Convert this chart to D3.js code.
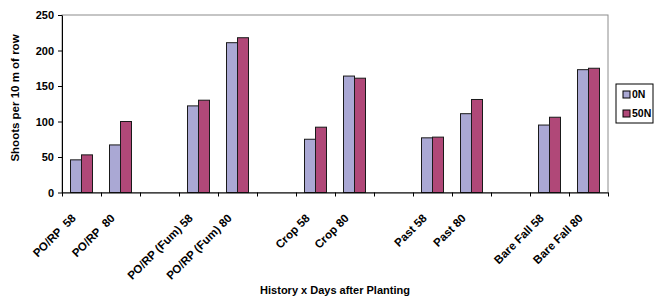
<!DOCTYPE html>
<html>
<head>
<meta charset="utf-8">
<script src="https://cdn.jsdelivr.net/npm/d3@7"></script>
<style>
  body { margin: 0; background: #fff; }
  text { font-family: "Liberation Sans", Arial, sans-serif; font-weight: bold; }
</style>
</head>
<body>
<svg id="chart" width="655" height="298"></svg>
<script>
// categories (blank slots are the gaps between history groups)
const categories = ["PO/RP\u00a0 58", "PO/RP\u00a0 80", "", "PO/RP (Fum) 58", "PO/RP (Fum) 80", "",
  "Crop 58", "Crop 80", "", "Past 58", "Past 80", "", "Bare Fall 58", "Bare Fall 80"];
const seriesNames = ["0N", "50N"];
const values0N  = [46, 67, null, 122, 211, null, 75, 164, null, 77, 111, null, 95, 173];
const values50N = [53, 100, null, 130, 218, null, 92, 161, null, 78, 131, null, 106, 175];
const yTicks = [0, 50, 100, 150, 200, 250];
const colors = ["#aaa8d4", "#b04878"];

const svg = d3.select("#chart");
const plotL = 62, plotR = 608, plotT = 15, plotB = 192.5;

const x = d3.scaleBand().domain(d3.range(categories.length)).range([plotL, plotR]);
const xi = d3.scaleLinear().domain([0, categories.length]).range([plotL, plotR]);
const bw = x.bandwidth();
const x1 = d3.scaleBand().domain(seriesNames).range([(bw - 22) / 2, (bw + 22) / 2]);
const y = d3.scaleLinear().domain([0, 250]).range([plotB, plotT]);

//Plot area border (gray top and right)
svg.append("rect")
  .attr("x", plotL).attr("y", plotT)
  .attr("width", plotR - plotL).attr("height", plotB - plotT)
  .attr("fill", "none").attr("stroke", "#8c8c8c").attr("stroke-width", 1);

//Bars
const rows = categories.map((c, i) => ({ i, vals: [values0N[i], values50N[i]] }));
const groups = svg.append("g").selectAll("g")
  .data(rows.filter(r => r.vals[0] != null))
  .enter().append("g")
  .attr("transform", d => `translate(${x(d.i)},0)`);

groups.selectAll("rect")
  .data(d => d.vals.map((v, k) => ({ k, v })))
  .enter().append("rect")
  .attr("x", d => x1(seriesNames[d.k]))
  .attr("y", d => y(d.v))
  .attr("width", x1.bandwidth())
  .attr("height", d => y(0) - y(d.v))
  .attr("fill", d => colors[d.k])
  .attr("stroke", "#1a1a1a")
  .attr("stroke-width", 1);

//Y axis
const yAxis = svg.append("g")
  .attr("transform", `translate(${plotL},0)`)
  .call(d3.axisLeft(y).tickValues(yTicks).tickSize(4).tickSizeOuter(0));
yAxis.select(".domain").attr("stroke", "#000");
yAxis.selectAll("text").attr("font-size", 11).attr("fill", "#000").attr("x", -8);

//X axis, ticks between categories
const xAxis = svg.append("g")
  .attr("transform", `translate(0,${plotB})`)
  .call(d3.axisBottom(xi).tickValues(d3.range(categories.length + 1)).tickFormat("").tickSize(4).tickSizeOuter(0));
xAxis.select(".domain").attr("stroke", "#000");

svg.append("g").selectAll("text")
  .data(categories.map((c, i) => ({ c, i })).filter(d => d.c !== ""))
  .enter().append("text")
  .attr("transform", d => `translate(${x(d.i) + bw / 2 - 5},219) rotate(-45)`)
  .attr("text-anchor", "end")
  .attr("font-size", 11.5)
  .text(d => d.c);

//Axis titles
svg.append("text")
  .attr("x", 335).attr("y", 294)
  .attr("text-anchor", "middle").attr("font-size", 11)
  .text("History x Days after Planting");

svg.append("text")
  .attr("transform", "translate(19,98) rotate(-90)")
  .attr("text-anchor", "middle").attr("font-size", 11.5)
  .text("Shoots per 10 m of row");

//Legend
const legend = svg.append("g").attr("transform", "translate(616,84)");
legend.append("rect")
  .attr("width", 37).attr("height", 39)
  .attr("fill", "#fff").attr("stroke", "#000");
seriesNames.forEach((s, k) => {
  legend.append("rect")
    .attr("x", 7).attr("y", 7 + k * 19)
    .attr("width", 7).attr("height", 7)
    .attr("fill", colors[k]).attr("stroke", "#000");
  legend.append("text")
    .attr("x", 16).attr("y", 14 + k * 19)
    .attr("font-size", 10.5)
    .text(s);
});
</script>
</body>
</html>
